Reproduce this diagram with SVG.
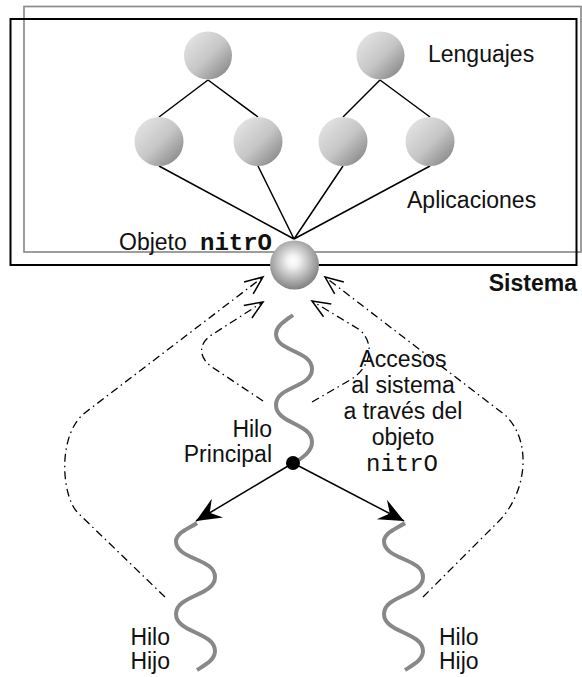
<svg xmlns="http://www.w3.org/2000/svg" width="582" height="677" viewBox="0 0 582 677">
<style>
.t{font-family:"Liberation Sans",Arial,sans-serif;font-size:23px;fill:#111}
.b{font-weight:bold}
.m{font-family:"Liberation Mono","Courier New",monospace;font-size:24px;fill:#111}
.edge{stroke:#000;stroke-width:1.5;fill:none}
.dd{stroke:#000;stroke-width:1.3;fill:none;stroke-dasharray:8 4 1.5 4}
.thread{stroke:#888;stroke-width:4;fill:none;stroke-linecap:butt}
.node{fill:url(#g1)}
</style>
<defs>
<linearGradient id="g1" x1="0.15" y1="0.15" x2="0.9" y2="0.9">
<stop offset="0" stop-color="#e0e0e0"/>
<stop offset="0.5" stop-color="#c6c6c6"/>
<stop offset="1" stop-color="#8a8a8a"/>
</linearGradient>
<radialGradient id="g2" cx="0.47" cy="0.42" r="0.6">
<stop offset="0" stop-color="#ffffff"/>
<stop offset="0.2" stop-color="#f2f2f2"/>
<stop offset="1" stop-color="#7c7c7c"/>
</radialGradient>
<marker id="open" markerUnits="userSpaceOnUse" viewBox="-20 -10 22 20" markerWidth="22" markerHeight="20" refX="0" refY="0" orient="auto" overflow="visible">
<path d="M-18,-7.5 L0,0 L-18,7.5" fill="none" stroke="#000" stroke-width="1.5" stroke-dasharray="none"/>
</marker>
<marker id="solid" markerUnits="userSpaceOnUse" viewBox="-27 -13 30 26" markerWidth="30" markerHeight="26" refX="0" refY="0" orient="auto" overflow="visible">
<path d="M0,0 L-25,-11 L-16,0 L-25,11 Z" fill="#000" stroke="none"/>
</marker>
</defs>

<g id="sistema">
<rect x="24" y="6.5" width="557" height="245.5" fill="none" stroke="#8c8c8c" stroke-width="1.7"/>
<rect x="10.5" y="19" width="566" height="246" fill="none" stroke="#000" stroke-width="2"/>
<text class="t b" x="577" y="291" text-anchor="end" font-size="24">Sistema</text>
</g>

<g id="connectors">
<path class="edge" d="M208,80 L159,117 M208,80 L258,117 M380,80 L343,117 M380,80 L430,117"/>
<path class="edge" d="M159,166 L294,239 M258,166 L294,239 M343,166 L294,239 M430,166 L294,239"/>
<path class="edge" d="M293,463 L196,521" marker-end="url(#solid)"/>
<path class="edge" d="M293,463 L404,521" marker-end="url(#solid)"/>
<path class="dd" d="M165,597 L78,513 C61,496 57,433 86,412 L263,277" marker-end="url(#open)"/>
<path class="dd" d="M263,401 L212,367 C199,358 198,345 210,336 L263,302" marker-end="url(#open)"/>
<path class="dd" d="M312,402 L350,380 C370,368 376,345 360,330 L312,301" marker-end="url(#open)"/>
<path class="dd" d="M423,597 L498,522 C528,492 532,440 505,415 L325,277" marker-end="url(#open)"/>
</g>

<g id="lenguajes">
<circle class="node" cx="208" cy="55.5" r="24"/>
<circle class="node" cx="380.5" cy="55.5" r="24"/>
<text class="t" x="428" y="62">Lenguajes</text>
</g>
<g id="aplicaciones">
<circle class="node" cx="159" cy="141.5" r="24.5"/>
<circle class="node" cx="258" cy="141.5" r="24.5"/>
<circle class="node" cx="343" cy="141.5" r="24.5"/>
<circle class="node" cx="430" cy="141.5" r="24.5"/>
<text class="t" x="407" y="208">Aplicaciones</text>
</g>
<g id="nitro">
<circle cx="294.5" cy="265" r="24.5" fill="url(#g2)"/>
<text class="t" x="119" y="250">Objeto</text>
<text class="m b" x="200" y="250">nitrO</text>
</g>

<g id="hilo-principal">
<path class="thread" d="M293,315 C285,321 276,326 276,334 C276,352 312,350 312,369 C312,388 276,386 276,405 C276,424 312,423 312,442 C312,452 302,458 294,463"/>
<circle cx="293" cy="463" r="7" fill="#000"/>
<text class="t" x="272" y="437" text-anchor="end">Hilo</text>
<text class="t" x="272" y="462" text-anchor="end">Principal</text>
</g>

<g id="hilo-hijo-1">
<path class="thread" d="M197,523 C188,529 176,533 176,541 C176,560 215,558 215,577 C215,596 176,595 176,614 C176,633 215,632 215,651 C215,660 205,665 197,670"/>
<text class="t" x="170" y="645" text-anchor="end">Hilo</text>
<text class="t" x="170" y="669" text-anchor="end">Hijo</text>
</g>
<g id="hilo-hijo-2">
<path class="thread" d="M405,523 C396,529 384,533 384,541 C384,560 423,558 423,577 C423,596 384,595 384,614 C384,633 423,632 423,651 C423,660 413,665 405,670"/>
<text class="t" x="439" y="645">Hilo</text>
<text class="t" x="439" y="669">Hijo</text>
</g>

<g id="nota">
<text class="t" text-anchor="middle" x="403" y="367">Accesos</text>
<text class="t" text-anchor="middle" x="403" y="393">al sistema</text>
<text class="t" text-anchor="middle" x="403" y="419">a través del</text>
<text class="t" text-anchor="middle" x="403" y="445">objeto</text>
<text class="m" text-anchor="middle" x="402" y="471">nitrO</text>
</g>
</svg>
